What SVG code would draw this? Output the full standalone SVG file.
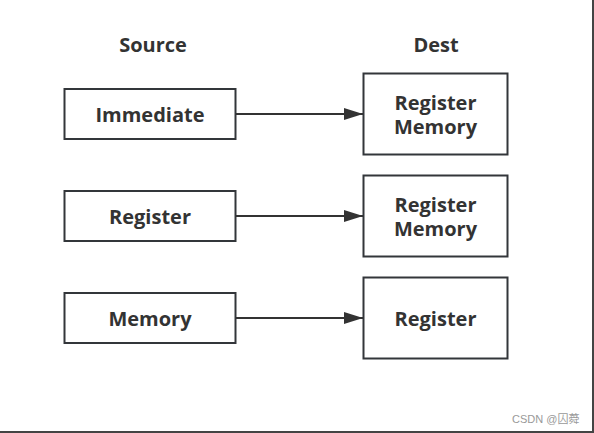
<svg xmlns="http://www.w3.org/2000/svg" width="594" height="433" viewBox="0 0 594 433">
<style>
.box{fill:#fff;stroke:#33363a;stroke-width:2}
.t{font-family:"Open Sans","Noto Sans","DejaVu Sans",sans-serif;font-weight:bold;font-size:20px;fill:#333;text-anchor:middle}
.edge{stroke:#333;stroke-width:2;fill:none}
.wm{font-family:"Liberation Sans","Noto Sans CJK SC",sans-serif;font-size:11px;fill:#999;text-anchor:end}
</style>
<defs>
<marker id="arr" markerUnits="userSpaceOnUse" markerWidth="20" markerHeight="14" refX="19" refY="6" orient="auto">
<path d="M0,0 L19,6 L0,12 Z" fill="#333"/>
</marker>
</defs>
<rect width="594" height="433" fill="#fff"/>
<line x1="0" y1="432" x2="594" y2="432" stroke="#444" stroke-width="2"/>
<line x1="593" y1="0" x2="593" y2="433" stroke="#444" stroke-width="2"/>
<text class="t" x="153" y="51.5">Source</text>
<text class="t" x="436" y="51.5">Dest</text>
<g id="connectors">
<line class="edge" x1="236" y1="114" x2="363" y2="114" marker-end="url(#arr)"/>
<line class="edge" x1="236" y1="216" x2="363" y2="216" marker-end="url(#arr)"/>
<line class="edge" x1="236" y1="318" x2="363" y2="318" marker-end="url(#arr)"/>
</g>
<g id="src-immediate">
<rect class="box" x="64.5" y="89" width="171" height="50"/>
<text class="t" x="150" y="121.5">Immediate</text>
</g>
<g id="src-register">
<rect class="box" x="64.5" y="191" width="171" height="50"/>
<text class="t" x="150" y="223.5">Register</text>
</g>
<g id="src-memory">
<rect class="box" x="64.5" y="293" width="171" height="50"/>
<text class="t" x="150" y="325.5">Memory</text>
</g>
<g id="dst-1">
<rect class="box" x="363.5" y="73.5" width="144" height="81"/>
<text class="t" x="435.5" y="109.5"><tspan x="435.5">Register</tspan><tspan x="435.5" dy="24">Memory</tspan></text>
</g>
<g id="dst-2">
<rect class="box" x="363.5" y="175.5" width="144" height="81"/>
<text class="t" x="435.5" y="211.5"><tspan x="435.5">Register</tspan><tspan x="435.5" dy="24">Memory</tspan></text>
</g>
<g id="dst-3">
<rect class="box" x="363.5" y="277.5" width="144" height="81"/>
<text class="t" x="435.5" y="325.5">Register</text>
</g>
<text class="wm" x="579.5" y="423">CSDN @囚蕣</text>
</svg>
